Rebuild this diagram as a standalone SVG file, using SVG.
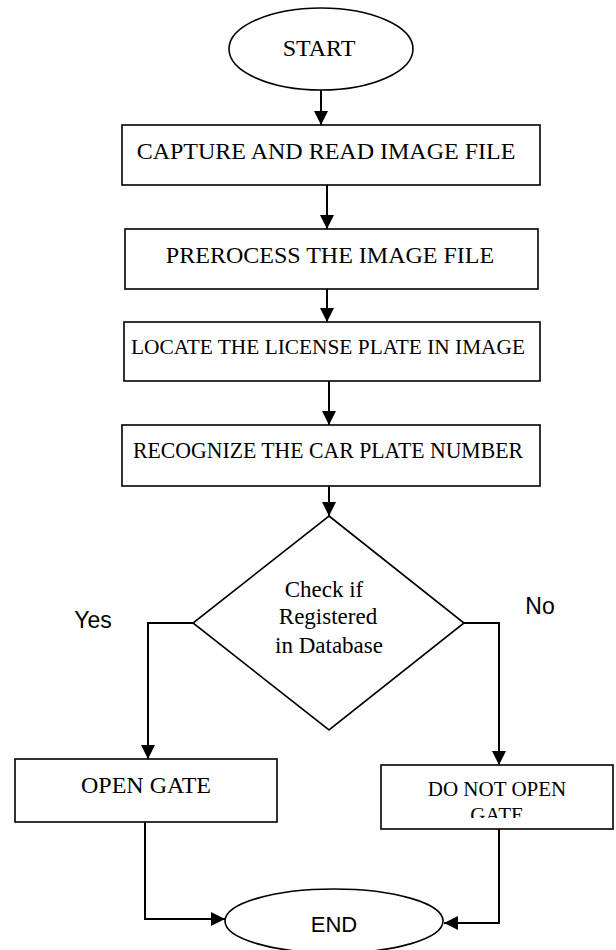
<svg xmlns="http://www.w3.org/2000/svg" width="616" height="950" viewBox="0 0 616 950">
<style>
.shape{fill:#fff;stroke:#000;stroke-width:1.6}
.conn{fill:none;stroke:#000;stroke-width:2}
.serif{font-family:"Liberation Serif","Times New Roman",serif;font-size:24px;fill:#000;text-anchor:middle}
.sans{font-family:"Liberation Sans",Arial,sans-serif;font-size:22px;fill:#000;text-anchor:middle}
</style>
<defs>
<marker id="arr" markerUnits="userSpaceOnUse" markerWidth="14" markerHeight="14" viewBox="0 0 14 14" refX="14" refY="7" orient="auto">
<path d="M0,0 L14,7 L0,14 Z" fill="#000"/>
</marker>
<clipPath id="clipGate"><rect x="382" y="766" width="230" height="52"/></clipPath>
</defs>
<rect width="616" height="950" fill="#fff"/>
<g id="connectors">
<line class="conn" x1="321" y1="90" x2="321" y2="125" marker-end="url(#arr)"/>
<line class="conn" x1="327" y1="185" x2="327" y2="229" marker-end="url(#arr)"/>
<line class="conn" x1="327" y1="289" x2="327" y2="322" marker-end="url(#arr)"/>
<line class="conn" x1="329" y1="381" x2="329" y2="425" marker-end="url(#arr)"/>
<line class="conn" x1="329" y1="486" x2="329" y2="516" marker-end="url(#arr)"/>
<polyline class="conn" points="193,623 148,623 148,759" marker-end="url(#arr)"/>
<polyline class="conn" points="464,623 499,623 499,765" marker-end="url(#arr)"/>
<polyline class="conn" points="145,822 145,919 225,919" marker-end="url(#arr)"/>
<polyline class="conn" points="499,829 499,923 444,923" marker-end="url(#arr)"/>
</g>
<g id="start">
<ellipse class="shape" cx="321" cy="49" rx="92" ry="41"/>
<text class="serif" x="319" y="56">START</text>
</g>
<g id="capture">
<rect class="shape" x="122" y="125" width="418" height="60"/>
<text class="serif" x="326" y="159">CAPTURE AND READ IMAGE FILE</text>
</g>
<g id="preprocess">
<rect class="shape" x="125" y="229" width="413" height="60"/>
<text class="serif" x="330" y="263">PREROCESS THE IMAGE FILE</text>
</g>
<g id="locate">
<rect class="shape" x="124" y="322" width="416" height="59"/>
<text class="serif" x="328" y="354" textLength="394" lengthAdjust="spacingAndGlyphs" style="font-size:22px">LOCATE THE LICENSE PLATE IN IMAGE</text>
</g>
<g id="recognize">
<rect class="shape" x="122" y="425" width="418" height="61"/>
<text class="serif" x="328" y="458" textLength="390" lengthAdjust="spacingAndGlyphs" style="font-size:22.5px">RECOGNIZE THE CAR PLATE NUMBER</text>
</g>
<g id="decision">
<polygon class="shape" points="329,516 464,623 329,730 193,623"/>
<text class="serif" x="324" y="597" style="font-size:23px">Check if</text>
<text class="serif" x="328" y="624" style="font-size:23px">Registered</text>
<text class="serif" x="329" y="653" style="font-size:23px">in Database</text>
</g>
<text id="yes-label" class="sans" x="93" y="628" style="font-size:23px">Yes</text>
<text id="no-label" class="sans" x="540" y="614" style="font-size:23px">No</text>
<g id="open-gate">
<rect class="shape" x="15" y="759" width="262" height="63"/>
<text class="serif" x="146" y="793">OPEN GATE</text>
</g>
<g id="do-not-open">
<rect class="shape" x="381" y="765" width="232" height="64"/>
<text class="serif" x="497" y="796" style="font-size:21px">DO NOT OPEN</text>
<text class="serif" x="497" y="822" style="font-size:21px" clip-path="url(#clipGate)">GATE</text>
</g>
<g id="end">
<ellipse class="shape" cx="334" cy="921" rx="109" ry="32"/>
<text class="sans" x="334" y="932">END</text>
</g>
</svg>
